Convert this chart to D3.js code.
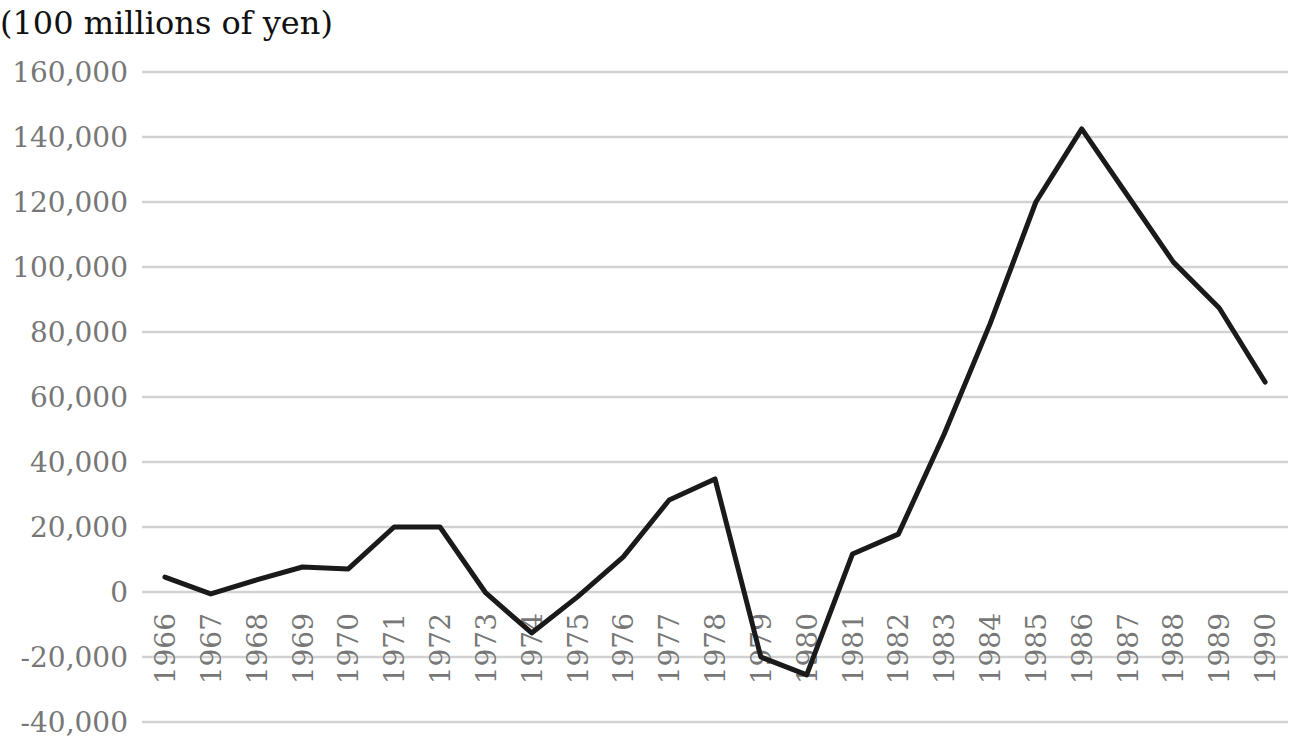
<!DOCTYPE html>
<html>
<head>
<meta charset="utf-8">
<script src="https://cdn.jsdelivr.net/npm/d3@7"></script>
<style>
  body { margin: 0; background: #fff; }
  text { font-family: "DejaVu Serif", "Liberation Serif", serif; }
</style>
</head>
<body>
<div id="chart"></div>
<script>
// years on the x axis
var years = ['1966','1967','1968','1969','1970','1971','1972','1973','1974','1975',
  '1976','1977','1978','1979','1980','1981','1982','1983','1984','1985',
  '1986','1987','1988','1989','1990'];

// values in 100 millions of yen
var values = [4600, -600, 3700, 7700, 7100, 20000, 20000, -300, -12600, -1500,
  10800, 28300, 34800, -20000, -25500, 11700, 17800, 48600, 82500, 120000,
  142500, 122000, 101500, 87400, 64600];

var yTicks = [-40000, -20000, 0, 20000, 40000, 60000, 80000, 100000, 120000, 140000, 160000];

var unitLabel = '(100 millions of yen)';

var W = 1292, H = 742;
var margin = { left: 142, right: 4, top: 72, bottom: 20 };

var svg = d3.select('#chart')
  .append('svg')
  .attr('width', W)
  .attr('height', H);

var xScale = d3.scaleBand()
  .domain(years)
  .range([margin.left, W - margin.right]);

var yScale = d3.scaleLinear()
  .domain([-40000, 160000])
  .range([H - margin.bottom, margin.top]);

// plain hyphen for negatives, like the original
var fmt = d3.formatLocale({ decimal: '.', thousands: ',', grouping: [3], currency: ['', ''], minus: '-' }).format(',');

// gridlines
svg.append('g')
  .selectAll('line')
  .data(yTicks)
  .enter().append('line')
    .attr('x1', margin.left)
    .attr('x2', W - margin.right)
    .attr('y1', function(d){ return yScale(d); })
    .attr('y2', function(d){ return yScale(d); })
    .style('stroke', '#d2d2d2')
    .style('stroke-width', 2.5);

// y tick labels
svg.append('g')
  .selectAll('text')
  .data(yTicks)
  .enter().append('text')
    .attr('x', 128)
    .attr('y', function(d){ return yScale(d); })
    .attr('dy', '0.36em')
    .attr('text-anchor', 'end')
    .style('font-size', '28px')
    .style('fill', '#777')
    .text(function(d){ return fmt(d); });

// x labels, rotated, hanging below the zero line
svg.append('g')
  .selectAll('text')
  .data(years)
  .enter().append('text')
    .attr('transform', function(d){
      return 'translate(' + (xScale(d) + xScale.bandwidth() / 2) + ',' + (yScale(0) + 21) + ') rotate(-90)';
    })
    .attr('dy', '0.36em')
    .attr('text-anchor', 'end')
    .style('font-size', '28px')
    .style('fill', '#777')
    .text(function(d){ return d; });

// the series
var line = d3.line()
  .x(function(d, i){ return xScale(years[i]) + xScale.bandwidth() / 2; })
  .y(function(d){ return yScale(d); });

svg.append('path')
  .datum(values)
  .attr('d', line)
  .style('fill', 'none')
  .style('stroke', '#1a1a1a')
  .style('stroke-width', 5)
  .style('stroke-linejoin', 'round')
  .style('stroke-linecap', 'round');

// unit label
svg.append('text')
  .attr('x', 0)
  .attr('y', 34)
  .style('font-size', '32px')
  .style('fill', '#111')
  .text(unitLabel);
</script>
</body>
</html>
